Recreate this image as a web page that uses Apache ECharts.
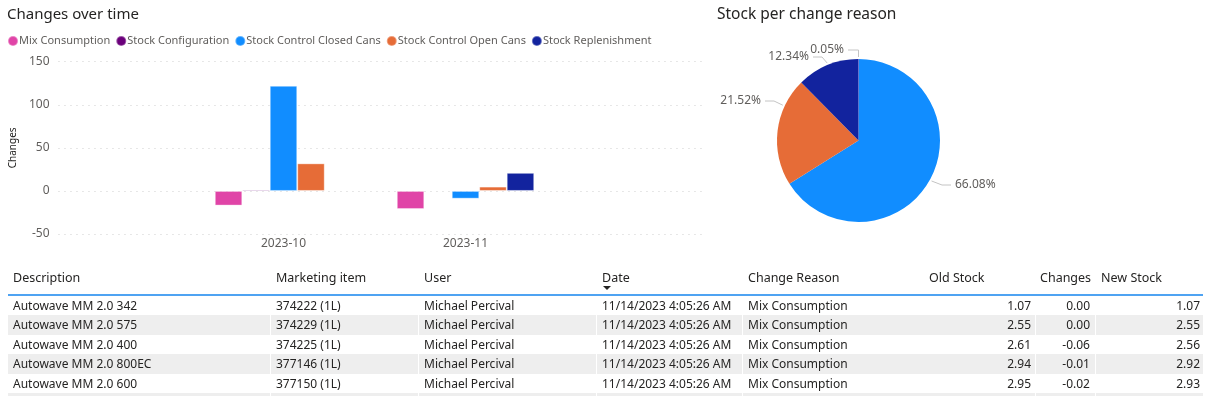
<!DOCTYPE html>
<html><head><meta charset="utf-8">
<script src="https://cdn.jsdelivr.net/npm/echarts@6/dist/echarts.min.js"></script>
<style>
html,body{margin:0;padding:0;background:#fff;}
#wrap{position:relative;width:1207px;height:396px;overflow:hidden;font-family:"Noto Sans",sans-serif;}
#chart{position:absolute;left:0;top:0;width:1207px;height:262px;}
#table{position:absolute;left:0;top:0;width:1207px;height:396px;}
.cell{position:absolute;white-space:nowrap;font-size:12px;color:#252423;line-height:19px;height:19px;}
.hdr{font-size:12.5px;}
.row{position:absolute;left:8px;width:1195px;height:19.5px;}
.sep{position:absolute;top:0;width:1px;height:100%;background:#fff;}
</style></head>
<body><div id="wrap"><div id="chart"></div><div id="table"></div></div>
<script>
// ---- Data ----
const months = ['2023-10', '2023-11'];
const seriesNames = ['Mix Consumption', 'Stock Configuration', 'Stock Control Closed Cans', 'Stock Control Open Cans', 'Stock Replenishment'];
const mixConsumption = [-17, -21];
const stockConfiguration = [1.5, null];
const closedCans = [122, -9];
const openCans = [32, 5];
const replenishment = [null, 21];
const yTicks = [-50, 0, 50, 100, 150];

const pieNames = ['Stock Control Closed Cans', 'Stock Control Open Cans', 'Stock Replenishment', 'Stock Configuration'];
const pieValues = [66.08, 21.52, 12.34, 0.05];

const tableHeaders = ['Description', 'Marketing item', 'User', 'Date', 'Change Reason', 'Old Stock', 'Changes', 'New Stock'];
const descriptions = ['Autowave MM 2.0 342', 'Autowave MM 2.0 575', 'Autowave MM 2.0 400', 'Autowave MM 2.0 800EC', 'Autowave MM 2.0 600'];
const marketingItems = ['374222 (1L)', '374229 (1L)', '374225 (1L)', '377146 (1L)', '377150 (1L)'];
const users = ['Michael Percival', 'Michael Percival', 'Michael Percival', 'Michael Percival', 'Michael Percival'];
const dates = ['11/14/2023 4:05:26 AM', '11/14/2023 4:05:26 AM', '11/14/2023 4:05:26 AM', '11/14/2023 4:05:26 AM', '11/14/2023 4:05:26 AM'];
const changeReasons = ['Mix Consumption', 'Mix Consumption', 'Mix Consumption', 'Mix Consumption', 'Mix Consumption'];
const oldStock = ['1.07', '2.55', '2.61', '2.94', '2.95'];
const changes = ['0.00', '0.00', '-0.06', '-0.01', '-0.02'];
const newStock = ['1.07', '2.55', '2.56', '2.92', '2.93'];

// ---- Styles / layout ----
const colors = ['#E044A7', '#6B007B', '#118DFF', '#E66C37', '#12239E'];
const pieColors = ['#118DFF', '#E66C37', '#12239E', '#6B007B'];
const PIE_CX = 858.5, PIE_CY = 140.5, PIE_R = 81.5;
// label anchor (near edge of text), side, and angle (deg clockwise from top) where the guide line meets the pie
const pieLabelPos = [
  {x: 955, y: 185, align: 'left', angle: 119},
  {x: 761, y: 101, align: 'right', angle: 295},
  {x: 809, y: 57, align: 'right', angle: 338},
  {x: 844, y: 50, align: 'right', angle: 0}
];
const FONT = '"Noto Sans", sans-serif';
const seriesValues = [mixConsumption, stockConfiguration, closedCans, openCans, replenishment];

const chart = echarts.init(document.getElementById('chart'), null, {renderer: 'canvas'});
const gridTop = 61.7, gridH = 172.3;
chart.setOption({
  animation: false,
  title: [
    {text: 'Changes over time', left: 2, top: 2, textStyle: {fontFamily: FONT, fontSize: 15, fontWeight: 'normal', color: '#252423'}},
    {text: 'Stock per change reason', left: 712, top: 2, textStyle: {fontFamily: FONT, fontSize: 15.5, fontWeight: 'normal', color: '#252423'}}
  ],
  legend: {
    data: seriesNames, left: 2, top: 30, icon: 'circle', itemWidth: 10, itemHeight: 10, itemGap: 5,
    textStyle: {fontFamily: FONT, fontSize: 11, color: '#605E5C', padding: [0, 0, 0, -4]}
  },
  grid: [
    {left: 49, top: gridTop, width: 657, height: gridH},
    {left: 192.5, top: gridTop, width: 364, height: gridH}
  ],
  xAxis: [
    {type: 'category', gridIndex: 0, data: months, show: false},
    {type: 'category', gridIndex: 1, data: months, position: 'bottom',
     axisLine: {show: false, onZero: false}, axisTick: {show: false},
     axisLabel: {fontFamily: FONT, fontSize: 12, color: '#605E5C', margin: 4}}
  ],
  yAxis: [
    {type: 'value', gridIndex: 0, min: yTicks[0], max: yTicks[yTicks.length - 1], interval: 50,
     name: 'Changes', nameLocation: 'middle', nameGap: 33, nameRotate: 90,
     nameTextStyle: {fontFamily: FONT, fontSize: 10, color: '#252423'},
     axisLine: {show: false}, axisTick: {show: false},
     axisLabel: {fontFamily: FONT, fontSize: 12, color: '#605E5C', margin: 9},
     splitLine: {lineStyle: {color: '#CFCFCF', type: [1, 5], width: 1}}},
    {type: 'value', gridIndex: 1, min: yTicks[0], max: yTicks[yTicks.length - 1], interval: 50, show: false, splitLine: {show: false}}
  ],
  series: seriesNames.map((n, i) => ({
    name: n, type: 'bar', xAxisIndex: 1, yAxisIndex: 1, data: seriesValues[i],
    barGap: '0%', barCategoryGap: '24.5%',
    itemStyle: {color: colors[i], borderColor: 'rgba(255,255,255,0.35)', borderWidth: 1}
  })).concat([{
    type: 'pie', center: [PIE_CX, PIE_CY], radius: PIE_R, startAngle: 90, clockwise: true,
    data: pieNames.map((n, i) => ({name: n, value: pieValues[i], itemStyle: {color: pieColors[i]}})),
    label: {formatter: p => p.value.toFixed(2) + '%', fontFamily: FONT, fontSize: 12, color: '#605E5C'},
    labelLine: {length: 8, length2: 12, lineStyle: {color: '#C4C4C4', width: 1}},
    labelLayout: p => {
      const q = pieLabelPos[p.dataIndex];
      const s = q.align === 'left' ? -1 : 1;
      const a = q.angle * Math.PI / 180;
      const edge = [PIE_CX + (PIE_R + 2) * Math.sin(a), PIE_CY - (PIE_R + 2) * Math.cos(a)];
      const end = [q.x + s * 4, q.y];
      let elbow = [q.x + s * 13, q.y];
      if (q.angle === 0) elbow = [edge[0], q.y];
      return {x: q.x, y: q.y, align: q.align, verticalAlign: 'middle', labelLinePoints: [edge, elbow, end]};
    },
    legendHoverLink: false
  }])
});

// ---- Table ----
const tbl = document.getElementById('table');
const cols = [
  {x: 13, align: 'left', data: descriptions},
  {x: 276, align: 'left', data: marketingItems},
  {x: 424, align: 'left', data: users},
  {x: 602, align: 'left', data: dates},
  {x: 748, align: 'left', data: changeReasons},
  {x: 1031, align: 'right', hx: 929, data: oldStock},
  {x: 1090, align: 'right', hx: 1040, data: changes},
  {x: 1200, align: 'right', hx: 1101, data: newStock}
];
const seps = [270, 418, 596, 742, 1035, 1095];
function add(html) { tbl.insertAdjacentHTML('beforeend', html); }
const rowTop0 = 295.5, rowH = 19.5;
for (let r = 0; r < 6; r++) {
  const bg = r % 2 === 1 ? '#EEEEEE' : '#FFFFFF';
  let s = `<div class="row" style="top:${rowTop0 + r * rowH}px;background:${bg}">`;
  if (r % 2 === 1) seps.forEach(x => { s += `<div class="sep" style="left:${x - 8}px"></div>`; });
  s += '</div>';
  add(s);
}
tableHeaders.forEach((h, i) => {
  const c = cols[i];
  const x = c.hx !== undefined ? c.hx : c.x;
  add(`<div class="cell hdr" style="left:${x}px;top:268px">${h}</div>`);
});
add(`<div style="position:absolute;left:603px;top:286px;width:0;height:0;border-left:4px solid transparent;border-right:4px solid transparent;border-top:4px solid #252423"></div>`);
add(`<div style="position:absolute;left:8px;top:294px;width:1195px;height:1.5px;background:#4FA3F2"></div>`);
for (let r = 0; r < descriptions.length; r++) {
  const top = rowTop0 + r * rowH;
  cols.forEach(c => {
    if (c.align === 'left') add(`<div class="cell" style="left:${c.x}px;top:${top}px">${c.data[r]}</div>`);
    else add(`<div class="cell" style="right:${1207 - c.x}px;top:${top}px;text-align:right">${c.data[r]}</div>`);
  });
}
</script></body></html>
